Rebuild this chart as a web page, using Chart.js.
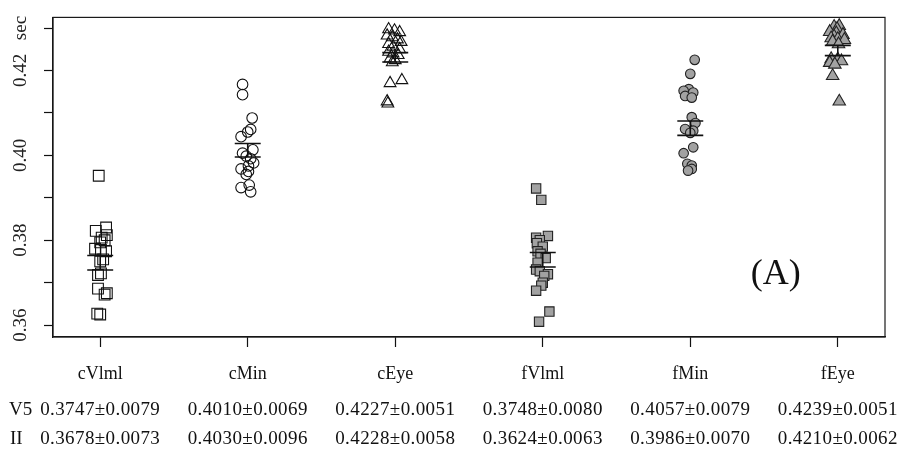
<!DOCTYPE html>
<html>
<head>
<meta charset="utf-8">
<script src="https://cdn.jsdelivr.net/npm/chart.js@4/dist/chart.umd.min.js"></script>
<style>
  html, body { margin: 0; padding: 0; background: #fff; }
  #wrap { width: 906px; height: 450px; }
</style>
</head>
<body>
<div id="wrap"><canvas id="chart" width="906" height="450"></canvas></div>
<script>
// groups along the x axis
const categories = ['cVlml', 'cMin', 'cEye', 'fVlml', 'fMin', 'fEye']

// y ticks, R style: every other one labelled, the top one carries the unit
const yTickValues = [0.36, 0.37, 0.38, 0.39, 0.40, 0.41, 0.42, 0.43]
const yTickLabels = ['0.36', '', '0.38', '', '0.40', '', '0.42', 'sec']

// measured times (sec) per group, and each point's sideways jitter (category units)
const cVlmlValues = [0.3952, 0.3830, 0.3822, 0.3812, 0.3806, 0.3800, 0.3795, 0.3780, 0.3777, 0.3774, 0.3755, 0.3750, 0.3722, 0.3718, 0.3686, 0.3675, 0.3672, 0.3627, 0.3625]
const cVlmlJitter = [-0.01, 0.04, -0.03, 0.045, 0.01, 0.03, 0.0, -0.035, 0.005, 0.04, 0.02, 0.0, 0.005, -0.015, -0.015, 0.045, 0.03, -0.02, 0.0]

const cMinValues = [0.4167, 0.4143, 0.4088, 0.4061, 0.4055, 0.4044, 0.4013, 0.4005, 0.3998, 0.3992, 0.3982, 0.3975, 0.3968, 0.3962, 0.3955, 0.3930, 0.3924, 0.3914]
const cMinJitter = [-0.035, -0.035, 0.03, 0.02, 0.0, -0.045, 0.035, -0.035, -0.01, 0.02, 0.04, 0.005, -0.045, 0.005, -0.01, 0.01, -0.045, 0.02]

const cEyeValues = [0.4297, 0.4294, 0.4290, 0.4282, 0.4278, 0.4273, 0.4267, 0.4262, 0.4256, 0.4250, 0.4244, 0.4240, 0.4236, 0.4228, 0.4224, 0.4219, 0.4177, 0.4170, 0.4127, 0.4122]
const cEyeJitter = [-0.045, -0.005, 0.03, -0.055, -0.02, 0.015, 0.04, -0.045, -0.015, 0.03, -0.045, -0.015, 0.02, -0.035, 0.0, -0.02, 0.045, -0.035, -0.055, -0.05]

const fVlmlValues = [0.3922, 0.3895, 0.3810, 0.3806, 0.3800, 0.3793, 0.3785, 0.3774, 0.3768, 0.3758, 0.3747, 0.3731, 0.3727, 0.3720, 0.3716, 0.3700, 0.3693, 0.3681, 0.3632, 0.3608]
const fVlmlJitter = [-0.045, -0.01, 0.035, -0.045, -0.02, -0.04, 0.0, -0.035, -0.015, 0.02, -0.035, -0.045, -0.02, 0.035, 0.01, 0.0, -0.01, -0.045, 0.045, -0.025]

const fMinValues = [0.4225, 0.4192, 0.4156, 0.4152, 0.4148, 0.4140, 0.4136, 0.4090, 0.4076, 0.4062, 0.4058, 0.4053, 0.4019, 0.4005, 0.3980, 0.3976, 0.3968, 0.3964]
const fMinJitter = [0.03, 0.0, -0.01, -0.045, 0.02, -0.035, 0.01, 0.01, 0.035, -0.035, 0.02, 0.0, 0.02, -0.045, -0.02, 0.01, 0.01, -0.015]

const fEyeValues = [0.4305, 0.4303, 0.4298, 0.4291, 0.4288, 0.4284, 0.4280, 0.4276, 0.4274, 0.4272, 0.4268, 0.4262, 0.4227, 0.4226, 0.4222, 0.4218, 0.4214, 0.4187, 0.4127]
const fEyeJitter = [0.01, -0.025, -0.005, -0.055, -0.01, 0.035, -0.025, -0.045, 0.0, 0.045, -0.035, 0.005, -0.045, 0.0, 0.025, -0.055, -0.02, -0.035, 0.01]

// mean +- SE bars as drawn in the plot
const groupMeans = [0.3747, 0.4012, 0.4231, 0.3754, 0.4064, 0.4247]
const groupSE = [0.0017, 0.0016, 0.0011, 0.0017, 0.0017, 0.0012]

// summary table under the axis (mean ± SD)
const rowLabels = ['V5', 'II']
const v5Summary = ['0.3747±0.0079', '0.4010±0.0069', '0.4227±0.0051', '0.3748±0.0080', '0.4057±0.0079', '0.4239±0.0051']
const iiSummary = ['0.3678±0.0073', '0.4030±0.0096', '0.4228±0.0058', '0.3624±0.0063', '0.3986±0.0070', '0.4210±0.0062']

const panelLabel = '(A)'

const serif = '"Liberation Serif", "Times New Roman", serif'
const gray = '#a2a2a2'

// turn a group's values + jitter into scatter points at its category index
function toPoints(index, values, jitter) {
	return values.map((v, i) => ({ x: index + jitter[i], y: v }))
}

// error bar segments: top cap, bottom cap, vertical link; nulls break the line
function errorBarPoints() {
	const half = 0.088
	const pts = []
	groupMeans.forEach((m, i) => {
		const hi = m + groupSE[i]
		const lo = m - groupSE[i]
		pts.push({ x: i - half, y: hi }, { x: i + half, y: hi }, { x: i, y: null })
		pts.push({ x: i - half, y: lo }, { x: i + half, y: lo }, { x: i, y: null })
		pts.push({ x: i, y: lo }, { x: i, y: hi }, { x: i, y: null })
	})
	return pts
}

function group(label, index, values, jitter, style, radius, fill, border) {
	return {
		label: label,
		data: toPoints(index, values, jitter),
		pointStyle: style,
		pointRadius: radius,
		pointBackgroundColor: fill,
		pointBorderColor: border,
		pointBorderWidth: 1.1,
		showLine: false,
	}
}

// frame around the plot, the summary table and the panel letter
const extras = {
	id: 'extras',
	afterDraw(chart) {
		const { ctx, chartArea, scales } = chart
		ctx.save()
		ctx.strokeStyle = '#1a1a1a'
		ctx.lineWidth = 1.2
		ctx.strokeRect(chartArea.left, chartArea.top, chartArea.right - chartArea.left, chartArea.bottom - chartArea.top)

		ctx.fillStyle = '#111'
		ctx.font = '19px ' + serif
		ctx.textBaseline = 'middle'
		ctx.textAlign = 'left'
		ctx.fillText(rowLabels[0], 9, 410)
		ctx.fillText(rowLabels[1], 10, 439)
		ctx.textAlign = 'center'
		ctx.letterSpacing = '0.4px'
		categories.forEach((c, i) => {
			const px = scales.x.getPixelForValue(i)
			ctx.fillText(v5Summary[i], px, 410)
			ctx.fillText(iiSummary[i], px, 439)
		})
		ctx.letterSpacing = '0px'

		ctx.font = '36px ' + serif
		ctx.fillText(panelLabel, scales.x.getPixelForValue(4.58), scales.y.getPixelForValue(0.372))
		ctx.restore()
	},
}

const ctx = document.getElementById('chart').getContext('2d')
new Chart(ctx, {
	type: 'scatter',
	data: {
		datasets: [
			{
				label: 'mean ± SE',
				data: errorBarPoints(),
				showLine: true,
				spanGaps: false,
				borderColor: '#111',
				borderWidth: 1.6,
				pointRadius: 0,
				order: -1,
			},
			group('cVlml', 0, cVlmlValues, cVlmlJitter, 'rect', 7.6, 'rgba(0,0,0,0)', '#111'),
			group('cMin', 1, cMinValues, cMinJitter, 'circle', 5.3, 'rgba(0,0,0,0)', '#111'),
			group('cEye', 2, cEyeValues, cEyeJitter, 'triangle', 6.8, 'rgba(0,0,0,0)', '#111'),
			group('fVlml', 3, fVlmlValues, fVlmlJitter, 'rect', 6.6, gray, '#222'),
			group('fMin', 4, fMinValues, fMinJitter, 'circle', 4.8, gray, '#222'),
			group('fEye', 5, fEyeValues, fEyeJitter, 'triangle', 7.2, gray, '#222'),
		],
	},
	options: {
		responsive: false,
		animation: false,
		layout: { padding: { top: 12, right: 21, left: 0, bottom: 0 } },
		plugins: { legend: { display: false }, tooltip: { enabled: false } },
		scales: {
			x: {
				type: 'linear',
				min: -0.32,
				max: 5.32,
				afterBuildTicks: (scale) => {
					scale.ticks = categories.map((c, i) => ({ value: i }))
				},
				afterFit: (scale) => {
					scale.height = 113
				},
				grid: { drawOnChartArea: false, drawTicks: true, tickLength: 10, tickColor: '#111', tickWidth: 1.2 },
				border: { display: true, color: '#111', width: 1.2 },
				ticks: {
					autoSkip: false,
					maxRotation: 0,
					padding: 16,
					color: '#111',
					font: { family: serif, size: 18 },
					callback: (v, i) => categories[i],
				},
			},
			y: {
				type: 'linear',
				min: 0.3572,
				max: 0.4325,
				afterBuildTicks: (scale) => {
					scale.ticks = yTickValues.map((v) => ({ value: v }))
				},
				afterFit: (scale) => {
					scale.width = 53
				},
				grid: { drawOnChartArea: false, drawTicks: true, tickLength: 9, tickColor: '#111', tickWidth: 1.2 },
				border: { display: true, color: '#111', width: 1.2 },
				ticks: {
					autoSkip: false,
					minRotation: 90,
					maxRotation: 90,
					crossAlign: 'center',
					padding: 6,
					color: '#222',
					font: { family: serif, size: 19 },
					callback: (v, i) => yTickLabels[i],
				},
			},
		},
	},
	plugins: [extras],
})
</script>
</body>
</html>
